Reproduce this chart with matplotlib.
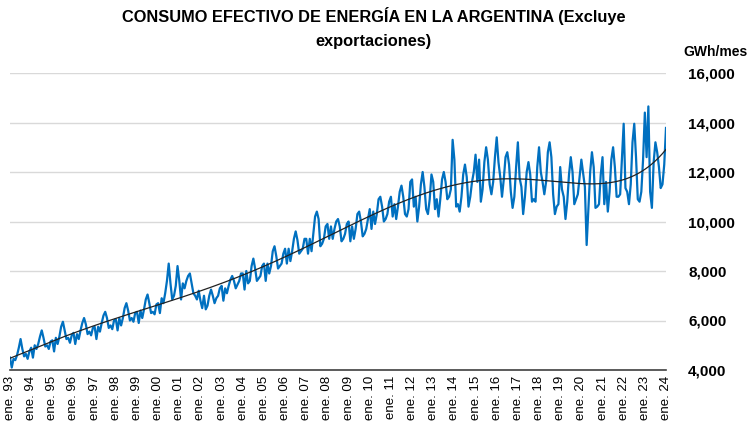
"""
Consumo efectivo de energía en la Argentina (excluye exportaciones), GWh/mes,
serie mensual ene-93 a ene-24 con tendencia polinómica.
"""

import numpy as np
import matplotlib

matplotlib.use("Agg")
import matplotlib.pyplot as plt

# GWh/mes, ene..dic de cada año
y1993 = [4500, 4100, 4450, 4400, 4600, 4900, 5250, 4850, 4550, 4650, 4450, 4750]
y1994 = [4900, 4500, 5000, 4850, 5050, 5350, 5600, 5300, 4950, 5000, 4850, 5150]
y1995 = [5200, 4750, 5300, 5050, 5350, 5750, 5950, 5600, 5250, 5300, 5100, 5400]
y1996 = [5500, 5050, 5450, 5250, 5600, 5900, 6100, 5850, 5450, 5550, 5400, 5700]
y1997 = [5750, 5250, 5750, 5550, 5900, 6200, 6350, 6100, 5700, 5800, 5650, 6000]
y1998 = [6050, 5600, 6100, 5800, 6100, 6500, 6700, 6400, 6000, 6100, 5950, 6300]
y1999 = [6350, 5900, 6400, 6100, 6450, 6850, 7050, 6700, 6300, 6350, 6250, 6650]
y2000 = [6700, 6300, 6900, 6700, 7100, 7600, 8300, 7500, 6850, 7000, 7400, 8200]
y2001 = [7600, 6850, 7500, 7300, 7600, 7800, 7900, 7500, 7100, 7000, 6850, 7200]
y2002 = [6800, 6500, 7000, 6450, 6600, 7000, 7250, 7000, 6700, 6900, 7000, 7300]
y2003 = [7400, 6800, 7300, 7100, 7400, 7650, 7800, 7600, 7300, 7450, 7600, 7900]
y2004 = [7900, 7250, 8000, 7500, 7600, 8200, 8500, 8100, 7600, 7700, 7800, 8200]
y2005 = [8300, 7600, 8300, 7900, 8200, 8800, 9000, 8600, 8100, 8200, 8300, 8700]
y2006 = [8900, 8300, 8900, 8400, 8800, 9300, 9600, 9250, 8700, 8800, 8900, 9300]
y2007 = [9300, 8700, 9300, 8800, 9500, 10200, 10400, 10100, 9000, 9100, 9300, 9800]
y2008 = [9900, 9300, 9800, 9300, 9700, 10000, 10100, 9800, 9200, 9300, 9500, 9900]
y2009 = [10000, 9200, 9800, 9300, 9700, 10300, 10400, 10000, 9400, 9500, 9700, 10100]
y2010 = [10500, 9700, 10400, 9900, 10300, 10900, 11000, 10600, 10000, 10100, 10300, 10800]
y2011 = [11000, 10200, 10700, 10100, 10600, 11200, 11450, 11000, 10300, 10200, 10500, 11600]
y2012 = [11700, 10600, 11000, 10000, 10600, 11500, 12000, 11400, 10500, 10300, 10900, 11900]
y2013 = [11600, 10500, 10900, 10200, 10900, 11700, 12000, 11600, 10900, 11000, 11300, 13300]
y2014 = [12500, 10600, 10700, 10400, 11000, 11900, 12300, 11800, 10600, 11000, 11600, 12000]
y2015 = [12700, 11600, 12500, 10800, 11300, 12400, 13000, 12500, 11500, 11100, 11600, 12600]
y2016 = [13400, 12400, 11800, 11000, 11700, 12600, 12800, 12300, 11200, 10550, 11000, 12200]
y2017 = [13200, 11750, 11400, 10300, 11000, 12000, 12400, 11900, 10800, 10900, 10800, 12200]
y2018 = [13000, 12000, 11600, 11100, 11600, 12800, 13200, 12600, 11100, 10300, 10600, 10700]
y2019 = [12200, 11300, 11000, 10100, 10800, 11900, 12600, 12000, 10700, 10900, 11100, 11800]
y2020 = [12500, 11950, 11400, 9050, 10500, 12000, 12800, 12200, 10550, 10600, 10700, 11900]
y2021 = [12600, 10700, 11600, 10400, 11200, 12500, 13000, 12200, 11000, 11000, 11100, 12500]
y2022 = [13950, 11350, 11200, 10700, 11500, 13200, 13950, 12600, 10900, 10800, 11200, 12500]
y2023 = [14400, 12600, 14650, 11200, 10550, 12400, 13200, 12800, 12200, 11350, 11500, 12300]
y2024 = [13780]

years = list(range(1993, 2025))
tick_labels = [f"ene. {y % 100:02d}" for y in years]

BLUE = "#0070C0"

consumo = np.array(
    y1993 + y1994 + y1995 + y1996 + y1997 + y1998 + y1999 + y2000 + y2001
    + y2002 + y2003 + y2004 + y2005 + y2006 + y2007 + y2008 + y2009 + y2010
    + y2011 + y2012 + y2013 + y2014 + y2015 + y2016 + y2017 + y2018 + y2019
    + y2020 + y2021 + y2022 + y2023 + y2024,
    dtype=float,
)
t = np.arange(len(consumo))

# polynomial trend (like Excel's order-6 trendline)
ts = t / t.max()
coef = np.polyfit(ts, consumo, 6)
trend = np.polyval(coef, ts)

fig = plt.figure(figsize=(7.48, 4.30), dpi=100)
ax = fig.add_axes([10 / 748, 60 / 430, 656 / 748, 297 / 430])

ax.plot(t, consumo, color=BLUE, lw=1.6, zorder=3)
ax.plot(t, trend, color="#222222", lw=0.9, zorder=4)

ax.set_xlim(0, len(consumo) - 1)
ax.set_ylim(4000, 16000)
ax.set_yticks(np.arange(4000, 16001, 2000))
ax.yaxis.tick_right()
ax.set_yticklabels([f"{v:,}" for v in range(4000, 16001, 2000)],
                   fontsize=11, fontweight="bold", family="Liberation Sans")
ax.tick_params(axis="y", length=0, pad=16)
ax.grid(axis="y", color="#d9d9d9", lw=1)
ax.set_axisbelow(True)

ax.set_xticks(np.arange(0, len(consumo), 12))
ax.set_xticklabels(tick_labels, rotation=90, fontsize=9.5, family="Liberation Sans")
ax.tick_params(axis="x", length=0, pad=4)

for s in ("top", "left", "right"):
    ax.spines[s].set_visible(False)
ax.spines["bottom"].set_color("#404040")
ax.spines["bottom"].set_linewidth(1.2)

fig.text(0.5, 1 - 7 / 430, "CONSUMO EFECTIVO DE ENERGÍA EN LA ARGENTINA (Excluye\nexportaciones)",
         ha="center", va="top", fontsize=11.8, fontweight="bold",
         family="Liberation Sans", linespacing=1.75)
fig.text(683 / 748, 1 - 52 / 430, "GWh/mes", ha="left", va="center",
         fontsize=10, fontweight="bold", family="Liberation Sans")

fig.savefig("out.png", dpi=100)
